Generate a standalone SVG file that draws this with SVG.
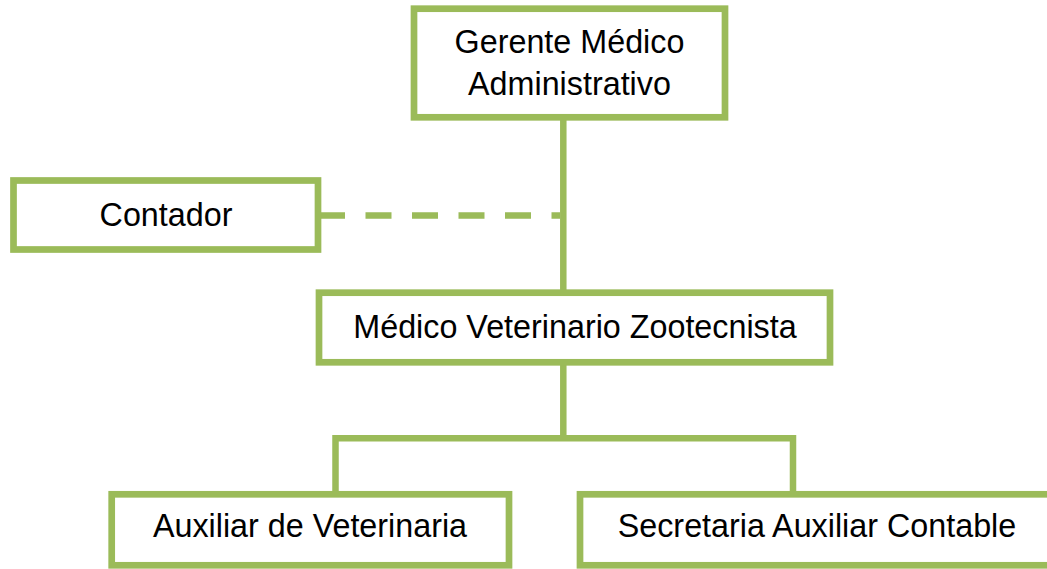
<svg xmlns="http://www.w3.org/2000/svg" width="1047" height="569" viewBox="0 0 1047 569">
  <style>
    .box { fill: #FFFFFF; stroke: #9BBB59; stroke-width: 6.7; }
    .lbl { font-family: "Liberation Sans", Arial, sans-serif; font-size: 32.3px; fill: #000000; text-anchor: middle; }
    .conn { stroke: #9BBB59; stroke-width: 6.5; fill: none; }
    .dash { stroke-dasharray: 26 20.5; }
  </style>
  <rect x="0" y="0" width="1047" height="569" fill="#FFFFFF"/>
  <g id="connectors">
    <line class="conn" x1="563.3" y1="117" x2="563.3" y2="293"/>
    <line class="conn dash" x1="319" y1="215.5" x2="560" y2="215.5"/>
    <line class="conn" x1="563.3" y1="362" x2="563.3" y2="438.3"/>
    <polyline class="conn" points="335.5,494 335.5,438.3 793,438.3 793,494"/>
  </g>
  <g id="gerente">
    <rect class="box" x="414" y="8.7" width="311" height="108.6"/>
    <text class="lbl" x="569.5" y="52.5">Gerente Médico</text>
    <text class="lbl" x="569.5" y="95">Administrativo</text>
  </g>
  <g id="contador">
    <rect class="box" x="13.5" y="180.5" width="304.5" height="69"/>
    <text class="lbl" x="166" y="225.5">Contador</text>
  </g>
  <g id="medico">
    <rect class="box" x="319" y="292.7" width="511" height="69.6"/>
    <text class="lbl" x="575" y="337.5">Médico Veterinario Zootecnista</text>
  </g>
  <g id="auxiliar">
    <rect class="box" x="111.7" y="494.3" width="397.3" height="71"/>
    <text class="lbl" x="310" y="537">Auxiliar de Veterinaria</text>
  </g>
  <g id="secretaria">
    <rect class="box" x="580" y="494.3" width="480" height="71"/>
    <text class="lbl" x="817" y="537">Secretaria Auxiliar Contable</text>
  </g>
</svg>
